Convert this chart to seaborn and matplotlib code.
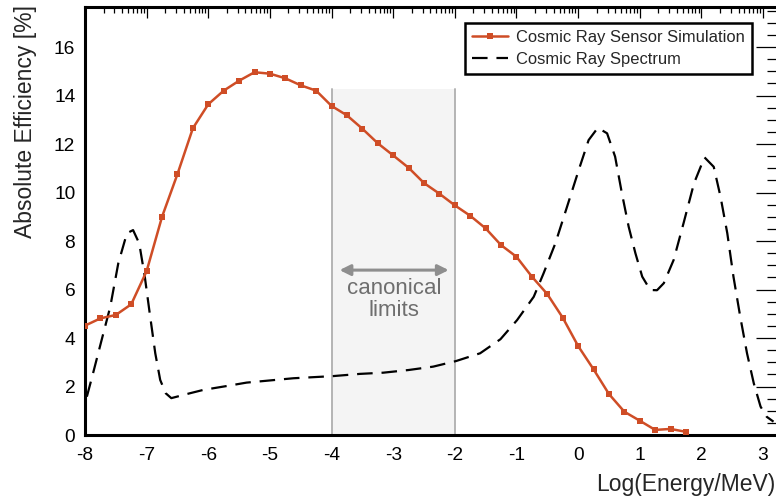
import numpy as np
import pandas as pd
import matplotlib
matplotlib.use("Agg")
import matplotlib.pyplot as plt
from matplotlib.ticker import FixedLocator, MultipleLocator
import seaborn as sns

# Sensor simulation efficiency, sampled every quarter decade
sim_logE = [-8.0, -7.75, -7.5, -7.25, -7.0, -6.75, -6.5, -6.25, -6.0, -5.75,
            -5.5, -5.25, -5.0, -4.75, -4.5, -4.25, -4.0, -3.75, -3.5, -3.25,
            -3.0, -2.75, -2.5, -2.25, -2.0, -1.75, -1.5, -1.25, -1.0, -0.75,
            -0.5, -0.25, 0.0, 0.25, 0.5, 0.75, 1.0, 1.25, 1.5, 1.75]
sim_eff = [4.51, 4.81, 4.95, 5.39, 6.76, 9.0, 10.76, 12.65, 13.64, 14.2,
           14.61, 14.96, 14.9, 14.71, 14.42, 14.2, 13.57, 13.18, 12.63, 12.03,
           11.53, 11.02, 10.39, 9.95, 9.47, 9.04, 8.52, 7.83, 7.35, 6.53,
           5.81, 4.84, 3.67, 2.71, 1.69, 0.96, 0.59, 0.21, 0.25, 0.13]

# Cosmic ray spectrum (arbitrary scale)
spec_logE = [-7.97, -7.87, -7.73, -7.59, -7.46, -7.32, -7.22, -7.12, -7.03, -6.95,
             -6.86, -6.78, -6.69, -6.6, -6.3, -6.08, -5.7, -5.38, -5.0, -4.62,
             -3.97, -3.54, -3.16, -2.75, -2.35, -1.98, -1.59, -1.26, -0.99, -0.72,
             -0.56, -0.37, -0.18, 0.01, 0.17, 0.32, 0.47, 0.6, 0.71, 0.82,
             0.93, 1.04, 1.17, 1.28, 1.39, 1.55, 1.71, 1.88, 2.05, 2.2,
             2.31, 2.42, 2.52, 2.63, 2.74, 2.85, 2.96, 3.06, 3.17]
spec_val = [1.58, 2.54, 3.92, 5.29, 7.08, 8.32, 8.45, 7.9, 6.53, 5.02,
            3.37, 2.27, 1.72, 1.52, 1.72, 1.86, 2.02, 2.16, 2.25, 2.34,
            2.43, 2.52, 2.57, 2.68, 2.82, 3.05, 3.37, 3.95, 4.74, 5.7,
            6.67, 7.9, 9.41, 10.93, 12.16, 12.67, 12.44, 11.48, 9.97, 8.59,
            7.49, 6.53, 5.98, 5.97, 6.26, 7.22, 8.73, 10.38, 11.45, 11.06,
            9.83, 8.32, 6.53, 4.88, 3.37, 2.13, 1.17, 0.75, 0.55]

canonical_lo, canonical_hi, canonical_top = -4.0, -2.0, 14.25
x_major = list(range(-8, 4))

sns.set_style("white")
plt.rcParams["font.family"] = ["Liberation Sans", "DejaVu Sans"]

W, H = 776, 499
fig = plt.figure(figsize=(W / 100, H / 100), dpi=100)
ax = fig.add_axes([85 / W, 1 - 435 / H, (777.5 - 85) / W, (435 - 7) / H])

xmax = -8 + (777.5 - 85) / 61.64
ax.set_xlim(-8, xmax)
ax.set_ylim(0, 17.65)

# canonical band
ax.fill_between([canonical_lo, canonical_hi], 0, canonical_top,
                color="#f4f4f4", zorder=0, linewidth=0)
for xv in (canonical_lo, canonical_hi):
    ax.plot([xv, xv], [0, canonical_top], color="#b4b4b4", lw=1.4, zorder=1)
ax.annotate("", xy=(-3.87, 6.8), xytext=(-2.1, 6.8),
            arrowprops=dict(arrowstyle="<|-|>", color="#8e8e8e", lw=2.2,
                            mutation_scale=16, shrinkA=0, shrinkB=0), zorder=2)
ax.text(-2.98, 6.05, "canonical", ha="center", va="center",
        fontsize=16, color="#6e6e6e", zorder=2)
ax.text(-2.98, 5.15, "limits", ha="center", va="center",
        fontsize=16, color="#6e6e6e", zorder=2)

sim = pd.DataFrame({"logE": sim_logE, "eff": sim_eff})
spec = pd.DataFrame({"logE": spec_logE, "val": spec_val})

sns.lineplot(data=sim, x="logE", y="eff", ax=ax, color="#CF4D26", lw=1.8,
             marker="s", markersize=5, markeredgewidth=0,
             label="Cosmic Ray Sensor Simulation", zorder=4)
sns.lineplot(data=spec, x="logE", y="val", ax=ax, color="black", lw=1.6,
             linestyle=(0, (7, 4)), label="Cosmic Ray Spectrum", zorder=3)

# axes frame and ticks
for side in ("left", "bottom", "top", "right"):
    ax.spines[side].set_linewidth(2.2)
    ax.spines[side].set_color("black")

ax.xaxis.set_major_locator(FixedLocator(x_major))
minor = [k + np.log10(m) for k in range(-8, 4) for m in range(2, 10)]
minor = [v for v in minor if v < xmax]
ax.xaxis.set_minor_locator(FixedLocator(minor))
ax.yaxis.set_major_locator(MultipleLocator(2))
ax.yaxis.set_minor_locator(MultipleLocator(0.5))

ax.tick_params(axis="both", which="both", direction="in", top=True, right=True,
               colors="black", width=0.9)
ax.tick_params(axis="x", which="major", length=8, labelsize=13.8, pad=9)
ax.tick_params(axis="x", which="minor", length=4.2)
ax.tick_params(axis="y", which="major", length=16, labelsize=13.8, pad=7)
ax.tick_params(axis="y", which="minor", length=8)
ax.set_xticklabels([str(v) for v in x_major])

ax.set_xlabel("")
ax.set_ylabel("")
fig.text(775 / W, 1 - 491.5 / H, "Log(Energy/MeV)", fontsize=16.5,
         ha="right", va="baseline")
fig.text(32 / W, 1 - 5 / H, "Absolute Efficiency [%]", fontsize=16.5,
         rotation=90, rotation_mode="anchor", ha="right", va="baseline")

leg = ax.legend(loc="upper right", bbox_to_anchor=(752 / W, 1 - 23 / H),
                bbox_transform=fig.transFigure, fontsize=11.9, frameon=True,
                fancybox=False, edgecolor="black", framealpha=1,
                handlelength=2.2, handletextpad=0.5, borderpad=0.42,
                labelspacing=0.42, borderaxespad=0)
leg.get_frame().set_linewidth(1.8)

fig.savefig("out.png", dpi=100)
